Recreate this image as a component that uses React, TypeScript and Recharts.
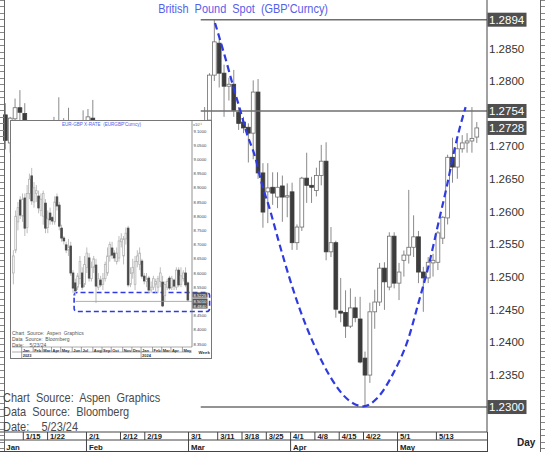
import React from "react";
import { ComposedChart, Bar, Line, XAxis, YAxis, ReferenceLine, ReferenceArea } from "recharts";

const SANS = "'Liberation Sans',Arial,sans-serif";

// ---- main chart: GBP daily, 1/9/24 .. 5/23/24 ----
const dates = [
  "1/9", "1/10", "1/11", "1/12", "1/15", "1/16", "1/17", "1/18", "1/19", "1/22", "1/23", "1/24", "1/25", "1/26", "1/29", "1/30", "1/31",
  "2/1", "2/2", "2/5", "2/6", "2/7", "2/8", "2/9", "2/12", "2/13", "2/14", "2/15", "2/16", "2/19", "2/20", "2/21", "2/22", "2/23", "2/26", "2/27", "2/28", "2/29",
  "3/1", "3/4", "3/5", "3/6", "3/7", "3/8", "3/11", "3/12", "3/13", "3/14", "3/15", "3/18", "3/19", "3/20", "3/21", "3/22", "3/25", "3/26", "3/27", "3/28", "3/29",
  "4/1", "4/2", "4/3", "4/4", "4/5", "4/8", "4/9", "4/10", "4/11", "4/12", "4/15", "4/16", "4/17", "4/18", "4/19", "4/22", "4/23", "4/24", "4/25", "4/26", "4/29", "4/30",
  "5/1", "5/2", "5/3", "5/6", "5/7", "5/8", "5/9", "5/10", "5/13", "5/14", "5/15", "5/16", "5/17", "5/20", "5/21", "5/22", "5/23",
];
const opens = [
  1.2748, 1.2705, 1.2742, 1.2759, 1.2750, 1.2730, 1.2625, 1.2690, 1.2705, 1.2700, 1.2705, 1.2700, 1.2720, 1.2710, 1.2705, 1.2710, 1.2695,
  1.2690, 1.2743, 1.2635, 1.2545, 1.2615, 1.2620, 1.2625, 1.2630, 1.2625, 1.2595, 1.2595, 1.2600, 1.2595, 1.2600, 1.2635, 1.2625, 1.2650, 1.2670, 1.2680, 1.2685, 1.2665,
  1.2640, 1.2650, 1.2685, 1.2705, 1.2740, 1.2809, 1.2858, 1.2812, 1.2792, 1.2795, 1.2752, 1.2737, 1.2729, 1.2720, 1.2783, 1.2659, 1.2630, 1.2637, 1.2622, 1.2639, 1.2622,
  1.2630, 1.2552, 1.2576, 1.2651, 1.2640, 1.2632, 1.2655, 1.2677, 1.2538, 1.2552, 1.2447, 1.2445, 1.2424, 1.2452, 1.2435, 1.2375, 1.2349, 1.2446, 1.2461, 1.2513, 1.2484, 1.2562,
  1.2490, 1.2525, 1.2533, 1.2545, 1.2561, 1.2507, 1.2498, 1.2521, 1.2522, 1.2559, 1.2590, 1.2683, 1.2668, 1.2696, 1.2705, 1.2708, 1.2714,
];
const highs = [
  1.2766, 1.2745, 1.2773, 1.2786, 1.2766, 1.2736, 1.2700, 1.2720, 1.2735, 1.2735, 1.2745, 1.2775, 1.2743, 1.2759, 1.2735, 1.2735, 1.2755,
  1.2757, 1.2771, 1.2640, 1.2625, 1.2645, 1.2635, 1.2645, 1.2645, 1.2680, 1.2610, 1.2615, 1.2610, 1.2615, 1.2650, 1.2650, 1.2675, 1.2675, 1.2690, 1.2690, 1.2695, 1.2670,
  1.2665, 1.2690, 1.2710, 1.2760, 1.2812, 1.2894, 1.2864, 1.2825, 1.2805, 1.2817, 1.2760, 1.2745, 1.2735, 1.2801, 1.2803, 1.2674, 1.2674, 1.2660, 1.2660, 1.2655, 1.2643,
  1.2644, 1.2580, 1.2653, 1.2690, 1.2653, 1.2667, 1.2702, 1.2706, 1.2576, 1.2555, 1.2498, 1.2479, 1.2482, 1.2469, 1.2469, 1.2385, 1.2460, 1.2480, 1.2521, 1.2522, 1.2568, 1.2568,
  1.2521, 1.2540, 1.2633, 1.2594, 1.2570, 1.2515, 1.2530, 1.2535, 1.2570, 1.2593, 1.2687, 1.2713, 1.2710, 1.2717, 1.2720, 1.2760, 1.2737,
];
const lows = [
  1.2695, 1.2690, 1.2710, 1.2730, 1.2710, 1.2600, 1.2597, 1.2665, 1.2680, 1.2690, 1.2665, 1.2690, 1.2690, 1.2690, 1.2675, 1.2680, 1.2680,
  1.2665, 1.2620, 1.2520, 1.2540, 1.2600, 1.2590, 1.2600, 1.2610, 1.2535, 1.2570, 1.2575, 1.2535, 1.2585, 1.2590, 1.2600, 1.2615, 1.2645, 1.2660, 1.2650, 1.2640, 1.2630,
  1.2620, 1.2640, 1.2660, 1.2695, 1.2730, 1.2800, 1.2790, 1.2745, 1.2770, 1.2745, 1.2725, 1.2720, 1.2675, 1.2680, 1.2650, 1.2575, 1.2582, 1.2610, 1.2605, 1.2584, 1.2591,
  1.2541, 1.2541, 1.2570, 1.2613, 1.2613, 1.2623, 1.2640, 1.2525, 1.2530, 1.2437, 1.2430, 1.2406, 1.2421, 1.2430, 1.2367, 1.2300, 1.2337, 1.2420, 1.2455, 1.2449, 1.2479, 1.2482,
  1.2464, 1.2500, 1.2520, 1.2530, 1.2490, 1.2446, 1.2490, 1.2500, 1.2510, 1.2550, 1.2580, 1.2644, 1.2650, 1.2690, 1.2690, 1.2690, 1.2705,
];
const closes = [
  1.2709, 1.2743, 1.2759, 1.2752, 1.2735, 1.2625, 1.2690, 1.2705, 1.2700, 1.2705, 1.2700, 1.2720, 1.2710, 1.2705, 1.2710, 1.2695, 1.2690,
  1.2745, 1.2635, 1.2545, 1.2615, 1.2620, 1.2625, 1.2630, 1.2625, 1.2595, 1.2595, 1.2600, 1.2595, 1.2600, 1.2635, 1.2625, 1.2650, 1.2670, 1.2680, 1.2685, 1.2665, 1.2640,
  1.2650, 1.2685, 1.2705, 1.2738, 1.2809, 1.2860, 1.2812, 1.2792, 1.2795, 1.2755, 1.2735, 1.2728, 1.2720, 1.2783, 1.2659, 1.2599, 1.2636, 1.2628, 1.2637, 1.2622, 1.2624,
  1.2552, 1.2576, 1.2651, 1.2640, 1.2637, 1.2655, 1.2677, 1.2538, 1.2552, 1.2450, 1.2444, 1.2424, 1.2452, 1.2437, 1.2369, 1.2349, 1.2446, 1.2461, 1.2513, 1.2492, 1.2562, 1.2490,
  1.2507, 1.2533, 1.2545, 1.2561, 1.2507, 1.2498, 1.2522, 1.2525, 1.2567, 1.2591, 1.2683, 1.2668, 1.2696, 1.2705, 1.2708, 1.2712, 1.2728,
];
const FIRST = dates.indexOf("3/1"); // trading-day index 0 = 3/1

const dayLabels = ["1/15", "1/22", "2/1", "2/12", "2/19", "3/1", "3/11", "3/18", "3/25", "4/1", "4/8", "4/15", "4/22", "5/1", "5/13"];
const monthLabels = ["Jan", "Feb", "Mar", "Apr", "May"];
const monthStarts = ["1/9", "2/1", "3/1", "4/1", "5/1"];

const priceTicks = [1.235, 1.24, 1.245, 1.25, 1.255, 1.26, 1.265, 1.27, 1.28, 1.285];
const boxedPrices = [1.23, 1.2728, 1.2754, 1.2894];
const levelLines = [1.2894, 1.2754, 1.23];

// dashed curve: day index / price
const curveIdx = [5.14, 7.2, 8.91, 10.29, 11.67, 13.37, 14.75, 16.46, 18.17, 20.58, 22.63, 25.37, 28.81, 32.24, 35.66, 38.42, 41.83, 44.92, 46.97, 49.03, 51.09, 52.82, 54.53, 55.56, 56.7];
const curveVal = [1.2889, 1.2837, 1.2791, 1.2756, 1.272, 1.2684, 1.2643, 1.2602, 1.2556, 1.2495, 1.2449, 1.2398, 1.2347, 1.2313, 1.2301, 1.2313, 1.2352, 1.2405, 1.2459, 1.2515, 1.2582, 1.2638, 1.2699, 1.273, 1.276];

// ---- inset: EUR-GBP weekly (x10^-1) ----
const wkOpen = [
  8.6, 8.68, 8.78, 8.857, 8.8, 8.864, 8.76, 8.88, 8.942, 8.85, 8.88, 8.871, 8.82, 8.8, 8.846, 8.76, 8.811, 8.795, 8.78, 8.868,
  8.839, 8.758, 8.723, 8.699, 8.68, 8.695, 8.6, 8.565, 8.55, 8.58, 8.6, 8.56, 8.62, 8.653, 8.58, 8.62, 8.628, 8.55, 8.575, 8.56,
  8.58, 8.6, 8.66, 8.688, 8.67, 8.64, 8.653, 8.71, 8.66, 8.72, 8.758, 8.56, 8.6, 8.56, 8.64, 8.63, 8.642, 8.589, 8.57, 8.582,
  8.54, 8.55, 8.56, 8.55, 8.57, 8.568, 8.52, 8.55, 8.582, 8.55, 8.575, 8.55, 8.61, 8.56, 8.58, 8.6, 8.565,
];
const wkHigh = [
  8.68, 8.82, 8.85, 8.87, 8.88, 8.88, 8.91, 8.95, 8.97, 8.92, 8.91, 8.89, 8.88, 8.89, 8.86, 8.82, 8.83, 8.8, 8.87, 8.88,
  8.85, 8.77, 8.73, 8.71, 8.72, 8.71, 8.61, 8.58, 8.6, 8.66, 8.62, 8.66, 8.69, 8.67, 8.64, 8.66, 8.65, 8.6, 8.59, 8.6,
  8.64, 8.69, 8.71, 8.71, 8.68, 8.69, 8.73, 8.74, 8.73, 8.76, 8.766, 8.62, 8.65, 8.66, 8.68, 8.69, 8.65, 8.6, 8.6, 8.59,
  8.57, 8.59, 8.58, 8.59, 8.62, 8.59, 8.57, 8.58, 8.59, 8.59, 8.58, 8.62, 8.62, 8.62, 8.61, 8.62, 8.57,
];
const wkLow = [
  8.56, 8.67, 8.75, 8.79, 8.78, 8.73, 8.74, 8.86, 8.84, 8.83, 8.85, 8.81, 8.8, 8.77, 8.74, 8.74, 8.77, 8.77, 8.77, 8.82,
  8.75, 8.71, 8.7, 8.67, 8.66, 8.59, 8.53, 8.52, 8.54, 8.56, 8.54, 8.55, 8.6, 8.57, 8.57, 8.6, 8.494, 8.54, 8.55, 8.54,
  8.57, 8.59, 8.64, 8.65, 8.64, 8.63, 8.64, 8.69, 8.63, 8.7, 8.55, 8.55, 8.58, 8.54, 8.62, 8.61, 8.58, 8.56, 8.55, 8.53,
  8.53, 8.54, 8.53, 8.53, 8.55, 8.48, 8.5, 8.54, 8.54, 8.54, 8.54, 8.54, 8.55, 8.55, 8.57, 8.55, 8.5,
];
const wkClose = [
  8.66, 8.8, 8.83, 8.804, 8.86, 8.758, 8.88, 8.93, 8.854, 8.9, 8.89, 8.829, 8.86, 8.88, 8.758, 8.79, 8.787, 8.783, 8.85, 8.836,
  8.765, 8.723, 8.713, 8.681, 8.69, 8.6, 8.547, 8.537, 8.59, 8.64, 8.55, 8.63, 8.67, 8.582, 8.62, 8.65, 8.554, 8.58, 8.558, 8.58,
  8.63, 8.66, 8.7, 8.663, 8.653, 8.67, 8.713, 8.72, 8.72, 8.74, 8.558, 8.6, 8.62, 8.64, 8.66, 8.67, 8.589, 8.572, 8.58, 8.54,
  8.55, 8.58, 8.57, 8.58, 8.6, 8.484, 8.56, 8.57, 8.547, 8.58, 8.554, 8.61, 8.558, 8.59, 8.6, 8.558, 8.505,
];
// week 0 = 12/5/22
const insetMonths = ["Jan", "Feb", "Mar", "Apr", "May", "Jun", "Jul", "Aug", "Sep", "Oct", "Nov", "Dec", "Jan", "Feb", "Mar", "Apr", "May"];
const insetMonthWeeks = [4, 9, 13, 17, 21, 26, 30, 35, 39, 43, 48, 52, 56, 61, 65, 69, 74];
const insetYears = ["2023", "2024"];
const insetYearWeeks = [4, 56];
const insetTicks = [8.35, 8.4, 8.45, 8.55, 8.6, 8.65, 8.7, 8.75, 8.8, 8.85, 8.9, 8.95, 9.0, 9.05, 9.1];
const insetBoxed = [8.5225, 8.501, 8.484];

const rows = dates.map((d, k) => ({ i: k - FIRST, d, o: opens[k], h: highs[k], l: lows[k], c: closes[k] }));
const curveRows = curveIdx.map((i, k) => ({ i, v: curveVal[k] }));
const wkRows = wkOpen.map((o, k) => ({ i: k, o, h: wkHigh[k], l: wkLow[k], c: wkClose[k] }));

const dayTickIdx = dayLabels.map((d) => dates.indexOf(d) - FIRST);
const monthTickIdx = monthStarts.map((d) => dates.indexOf(d) - FIRST);

const X_DOMAIN: [number, number] = [-39.1, 61.1];
const Y_DOMAIN: [number, number] = [1.22617, 1.29242];
const WX_DOMAIN: [number, number] = [-0.65, 77.74];
const WY_DOMAIN: [number, number] = [8.3394, 9.1352];

function makeCandle(upStroke: string, downFill: string, wick: string, bodyW: number) {
  return function CandleShape(props: any) {
    const { x, y, width, height, payload } = props;
    if (!payload || x == null) return null;
    const { o, h, l, c } = payload;
    const top = Math.min(y, y + height);
    const span = Math.abs(height);
    const k = h === l ? 0 : span / (h - l);
    const cx = x + width / 2;
    const bTop = top + (h - Math.max(o, c)) * k;
    const bBot = top + (h - Math.min(o, c)) * k;
    const up = c >= o;
    return (
      <g>
        <line x1={cx} x2={cx} y1={top} y2={top + span} stroke={wick} strokeWidth={1} />
        <rect
          x={cx - bodyW / 2}
          y={bTop}
          width={bodyW}
          height={Math.max(bBot - bTop, 1)}
          fill={up ? "#fff" : downFill}
          stroke={up ? upStroke : downFill}
          strokeWidth={0.8}
        />
      </g>
    );
  };
}

const MainCandle = makeCandle("#6e6e6e", "#3c3c3c", "#8a8a8a", 3.8);
const InsetCandle = makeCandle("#b4b4b4", "#4a4a4a", "#bdbdbd", 1.7);

function PriceTick(props: any) {
  const { y, payload } = props;
  const v = payload.value;
  const txt = v.toFixed(4);
  if (boxedPrices.some((b) => Math.abs(b - v) < 1e-7)) {
    return (
      <g>
        <rect x={487.5} y={y - 7} width={39} height={14} fill="#4f4f4f" />
        <text x={489} y={y + 4.3} fill="#fff" fontSize={11.5} fontFamily={SANS}>{txt}</text>
      </g>
    );
  }
  return (
    <text x={489} y={y + 4.3} fill="#333" fontSize={11.5} fontFamily={SANS}>{txt}</text>
  );
}

function DayTick(props: any) {
  const { x, payload } = props;
  const label = dates[payload.value + FIRST];
  return (
    <g>
      <line x1={x - 1.5} x2={x - 1.5} y1={432} y2={440} stroke="#444" />
      <text x={x + 1} y={439.2} fontSize={7.6} fontWeight="bold" fontFamily={SANS} fill="#222">{label}</text>
    </g>
  );
}

function MonthTick(props: any) {
  const { x, payload } = props;
  const k = monthTickIdx.indexOf(payload.value);
  return (
    <g>
      {k > 0 && <line x1={x - 1.5} x2={x - 1.5} y1={440} y2={452} stroke="#444" />}
      <text x={x + 1} y={449.5} fontSize={7.8} fontWeight="bold" fontFamily={SANS} fill="#222">{monthLabels[k]}</text>
    </g>
  );
}

function InsetPriceTick(props: any) {
  const { y, payload } = props;
  const v = payload.value;
  const txt = v.toFixed(4);
  if (insetBoxed.some((b) => Math.abs(b - v) < 1e-7)) {
    return (
      <g>
        <rect x={181.5} y={y - 2.6} width={15} height={5.2} fill="#555" />
        <text x={182.5} y={y + 1.6} fill="#fff" fontSize={4.2} fontFamily={SANS}>{txt}</text>
      </g>
    );
  }
  return <text x={182.5} y={y + 1.6} fill="#444" fontSize={4.2} fontFamily={SANS}>{txt}</text>;
}

function InsetMonthTick(props: any) {
  const { x, payload } = props;
  const k = insetMonthWeeks.indexOf(payload.value);
  return (
    <g>
      <line x1={x - 1} x2={x - 1} y1={226} y2={231} stroke="#666" strokeWidth={0.6} />
      <text x={x} y={230.5} fontSize={4} fontWeight="bold" fontFamily={SANS} fill="#333">{insetMonths[k]}</text>
    </g>
  );
}

function InsetYearTick(props: any) {
  const { x, payload } = props;
  const k = insetYearWeeks.indexOf(payload.value);
  return (
    <g>
      <line x1={x - 1} x2={x - 1} y1={231} y2={237} stroke="#666" strokeWidth={0.6} />
      <text x={x} y={236} fontSize={4} fontWeight="bold" fontFamily={SANS} fill="#333">{insetYears[k]}</text>
    </g>
  );
}

const ruler = (side: "left" | "right"): React.CSSProperties => ({
  position: "absolute",
  top: 0,
  [side]: 0,
  width: 4,
  height: 452,
  background: "repeating-linear-gradient(to bottom, #888 0px, #888 1px, transparent 1px, transparent 6.5px)",
  borderLeft: side === "right" ? "1px solid #666" : undefined,
  borderRight: side === "left" ? "1px solid #666" : undefined,
});

function Inset() {
  return (
    <div style={{ position: "absolute", left: 11, top: 121, width: 200, height: 237, background: "#fff", outline: "1px solid #777" }}>
      <ComposedChart width={200} height={237} data={wkRows} margin={{ top: 0, right: 0, bottom: 0, left: 1 }}>
        <XAxis dataKey="i" type="number" domain={WX_DOMAIN} allowDataOverflow ticks={insetMonthWeeks} interval={0} height={5} tickLine={false} axisLine={{ stroke: "#777", strokeWidth: 0.6 }} tick={InsetMonthTick} />
        <XAxis xAxisId="y" dataKey="i" type="number" domain={WX_DOMAIN} allowDataOverflow ticks={insetYearWeeks} interval={0} height={6} tickLine={false} axisLine={{ stroke: "#777", strokeWidth: 0.6 }} tick={InsetYearTick} />
        <YAxis orientation="right" width={19} domain={WY_DOMAIN} allowDataOverflow ticks={[...insetTicks, ...insetBoxed]} interval={0} tickLine={false} axisLine={{ stroke: "#777", strokeWidth: 0.8 }} tick={InsetPriceTick} />
        <ReferenceLine segment={[{ x: 27, y: 8.5 }, { x: 77.74, y: 8.5 }]} stroke="#999" strokeWidth={0.8} />
        <Bar dataKey={(d: any) => [d.l, d.h]} barSize={2} shape={InsetCandle} isAnimationActive={false} />
        <ReferenceArea x1={26.4} x2={85.4} y1={8.4644} y2={8.5313} ifOverflow="visible" fill="none" stroke="#2f3be0" strokeWidth={1.6} strokeDasharray="5 3" radius={3} />
      </ComposedChart>
      <div style={{ position: "absolute", left: 0, top: 0.5, width: 181, textAlign: "center", fontFamily: SANS, fontSize: 4.6, color: "#5560e8", whiteSpace: "pre" }}>
        EUR-GBP X-RATE  (EURGBP'Curncy)
      </div>
      <div style={{ position: "absolute", left: 182, top: 0.5, fontFamily: SANS, fontSize: 4, color: "#555" }}>x10⁻¹</div>
      <div style={{ position: "absolute", left: 1, top: 209, fontFamily: SANS, fontSize: 5, lineHeight: "6px", color: "#555", whiteSpace: "pre" }}>
        <div>Chart  Source:  Aspen  Graphics</div>
        <div>Data  Source:  Bloomberg</div>
        <div>Date:    5/23/24</div>
      </div>
      <div style={{ position: "absolute", left: 187.5, top: 229, fontFamily: SANS, fontSize: 4.4, fontWeight: "bold", color: "#333" }}>Week</div>
    </div>
  );
}

export default function App() {
  return (
    <div style={{ position: "relative", width: 545, height: 452, background: "#fff", overflow: "hidden" }}>
      <style>{"body{margin:0}"}</style>
      <ComposedChart width={545} height={452} data={rows} margin={{ top: 0, right: 0, bottom: 0, left: 0 }}>
        <XAxis dataKey="i" type="number" domain={X_DOMAIN} allowDataOverflow ticks={dayTickIdx} interval={0} height={8} tickLine={false} axisLine={{ stroke: "#444" }} tick={DayTick} />
        <XAxis xAxisId="m" dataKey="i" type="number" domain={X_DOMAIN} allowDataOverflow ticks={monthTickIdx} interval={0} height={12} tickLine={false} axisLine={{ stroke: "#444" }} tick={MonthTick} />
        <YAxis orientation="right" width={58} domain={Y_DOMAIN} allowDataOverflow ticks={[...priceTicks, ...boxedPrices]} interval={0} tickLine={false} axisLine={{ stroke: "#444" }} tick={PriceTick} />
        {levelLines.map((v) => (
          <ReferenceLine key={v} segment={[{ x: 2.2, y: v }, { x: 61.1, y: v }]} stroke="#6f6f6f" strokeWidth={1.5} />
        ))}
        <Bar dataKey={(d: any) => [d.l, d.h]} barSize={4} shape={MainCandle} isAnimationActive={false} />
        <Line data={curveRows} dataKey="v" type="monotone" stroke="#2f3be0" strokeWidth={2.2} strokeDasharray="7 4" dot={false} activeDot={false} isAnimationActive={false} />
      </ComposedChart>

      <div style={ruler("left")} />
      <div style={ruler("right")} />
      <div style={{ position: "absolute", left: 0, top: 0, width: 487, textAlign: "center", lineHeight: "15px" }}>
        <span style={{ display: "inline-block", fontFamily: SANS, fontSize: 12.5, color: "#5560e8", whiteSpace: "pre", transform: "scaleX(0.875)" }}>
          British  Pound  Spot  (GBP'Curncy)
        </span>
      </div>
      <div style={{ position: "absolute", left: 3, top: 390.5, fontFamily: SANS, fontSize: 12.2, lineHeight: "14.5px", color: "#4a4a4a", whiteSpace: "pre", transform: "scaleX(0.9)", transformOrigin: "left top" }}>
        <div>Chart  Source:  Aspen  Graphics</div>
        <div>Data  Source:  Bloomberg</div>
        <div>Date:    5/23/24</div>
      </div>
      <div style={{ position: "absolute", left: 0, top: 451, width: 487, height: 1, background: "#444" }} />
      <div style={{ position: "absolute", left: 487, top: 432, width: 1, height: 20, background: "#444" }} />
      <div style={{ position: "absolute", left: 517, top: 437, fontFamily: SANS, fontSize: 10, fontWeight: "bold", color: "#222" }}>Day</div>
      <Inset />
    </div>
  );
}
